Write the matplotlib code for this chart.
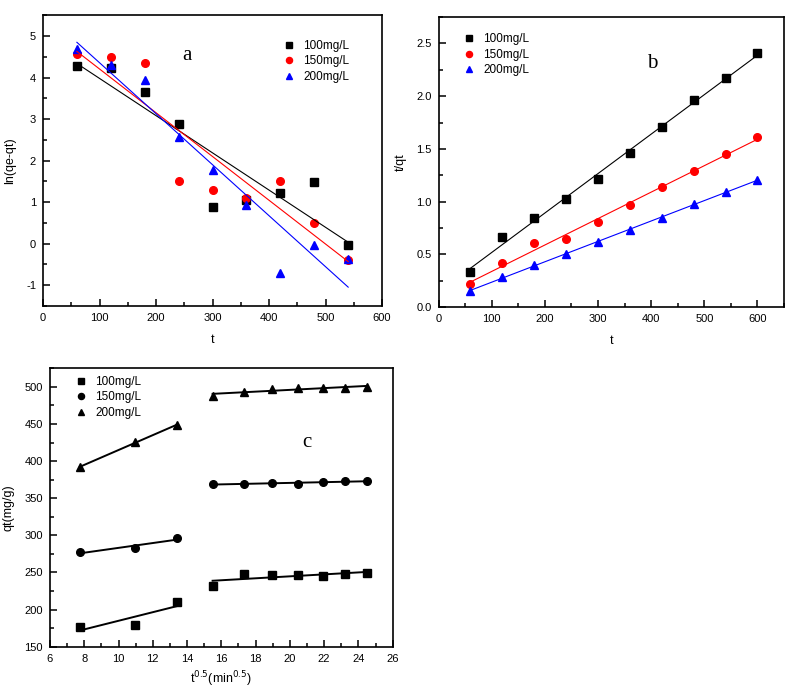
import numpy as np
import matplotlib
matplotlib.use('Agg')
import matplotlib.pyplot as plt
from matplotlib.ticker import MultipleLocator

plt.rcParams['font.family'] = ['Liberation Sans', 'DejaVu Sans']
plt.rcParams['axes.unicode_minus'] = False

labels = ['100mg/L', '150mg/L', '200mg/L']

# panel a: pseudo first order
t_a = [60, 120, 180, 240, 300, 360, 420, 480, 540]
lnq_100 = [4.29, 4.24, 3.66, 2.89, 0.88, 1.06, 1.22, 1.49, -0.04]
lnq_150 = [4.56, 4.50, 4.34, 1.51, 1.30, 1.09, 1.51, 0.49, -0.40]
lnq_200 = [4.70, 4.30, 3.94, 2.58, 1.77, 0.94, -0.71, -0.02, -0.38]

# panel b: pseudo second order
t_b = [60, 120, 180, 240, 300, 360, 420, 480, 540, 600]
tq_100 = [0.334, 0.661, 0.848, 1.029, 1.210, 1.458, 1.706, 1.960, 2.170, 2.405]
tq_150 = [0.216, 0.419, 0.604, 0.645, 0.807, 0.969, 1.134, 1.290, 1.449, 1.611]
tq_200 = [0.152, 0.286, 0.403, 0.499, 0.613, 0.734, 0.848, 0.975, 1.090, 1.207]

# panel c: intraparticle diffusion
t_sqrt = [7.75, 10.95, 13.42, 15.49, 17.32, 18.97, 20.49, 21.91, 23.24, 24.49]
qt_100 = [176.5, 179.7, 210.7, 231.9, 247.6, 246.7, 246.3, 245.4, 248.5, 249.4]
qt_150 = [277.3, 282.7, 296.2, 369.1, 369.5, 370.0, 369.1, 371.3, 372.7, 373.6]
qt_200 = [392.0, 425.3, 448.7, 487.4, 493.7, 497.3, 498.6, 498.2, 499.1, 499.5]
split = 3  # first stage = first 3 points

markers = ['s', 'o', '^']
colors = ['#000000', '#ff0000', '#0000ff']


def fitline(ax, x, y, color, lw):
    x = np.array(x)
    k, b = np.polyfit(x, y, 1)
    ax.plot([x.min(), x.max()], [k * x.min() + b, k * x.max() + b], color=color, linewidth=lw)


def style_axes(ax):
    for s in ax.spines.values():
        s.set_linewidth(1.2)
    ax.tick_params(which='both', direction='in', top=False, right=False, labelsize=8, width=1.1)
    ax.tick_params(which='major', length=5, pad=5)
    ax.tick_params(which='minor', length=3)


fig = plt.figure(figsize=(7.96, 6.97), dpi=100)
leg_kw = dict(frameon=False, fontsize=8.5, handlelength=1.0, handletextpad=0.7,
              labelspacing=0.3, markerscale=0.8, borderaxespad=0.0)

# ---- a
ax1 = fig.add_axes([0.054, 0.561, 0.426, 0.417])
for y, m, c, lab in zip([lnq_100, lnq_150, lnq_200], markers, colors, labels):
    ax1.plot(t_a, y, linestyle='none', marker=m, color=c, markersize=5.5, label=lab)
for y, c in zip([lnq_100, lnq_150, lnq_200], colors):
    fitline(ax1, t_a, y, c, 0.8)
ax1.set_xlim(0, 600)
ax1.set_ylim(-1.5, 5.5)
ax1.xaxis.set_major_locator(MultipleLocator(100))
ax1.xaxis.set_minor_locator(MultipleLocator(50))
ax1.yaxis.set_major_locator(MultipleLocator(1))
ax1.yaxis.set_minor_locator(MultipleLocator(0.5))
style_axes(ax1)
ax1.set_xlabel('t', fontsize=9, labelpad=8)
ax1.set_ylabel('ln(qe-qt)', fontsize=9, labelpad=7)
ax1.text(0.425, 0.862, 'a', transform=ax1.transAxes, fontsize=15,
         family='Liberation Serif', ha='center', va='center')
ax1.legend(loc='upper left', bbox_to_anchor=(0.695, 0.932), **leg_kw)

# ---- b
ax2 = fig.add_axes([0.551, 0.5595, 0.434, 0.416])
for y, m, c, lab in zip([tq_100, tq_150, tq_200], markers, colors, labels):
    ax2.plot(t_b, y, linestyle='none', marker=m, color=c, markersize=5.5, label=lab)
for y, c in zip([tq_100, tq_150, tq_200], colors):
    fitline(ax2, t_b, y, c, 0.8)
ax2.set_xlim(0, 650)
ax2.set_ylim(0, 2.75)
ax2.xaxis.set_major_locator(MultipleLocator(100))
ax2.xaxis.set_minor_locator(MultipleLocator(50))
ax2.yaxis.set_major_locator(MultipleLocator(0.5))
ax2.yaxis.set_minor_locator(MultipleLocator(0.25))
style_axes(ax2)
ax2.set_xlabel('t', fontsize=9, labelpad=8)
ax2.set_ylabel('t/qt', fontsize=9, labelpad=7)
ax2.text(0.617, 0.84, 'b', transform=ax2.transAxes, fontsize=15,
         family='Liberation Serif', ha='center', va='center')
ax2.legend(loc='upper left', bbox_to_anchor=(0.057, 0.96), **leg_kw)

# ---- c
ax3 = fig.add_axes([0.0628, 0.0722, 0.4305, 0.3994])
for y, m, lab in zip([qt_100, qt_150, qt_200], markers, labels):
    ax3.plot(t_sqrt, y, linestyle='none', marker=m, color='black', markersize=5.5, label=lab)
for y in [qt_100, qt_150, qt_200]:
    fitline(ax3, t_sqrt[:split], y[:split], 'black', 1.4)
    fitline(ax3, t_sqrt[split:], y[split:], 'black', 1.4)
ax3.set_xlim(6, 26)
ax3.set_ylim(150, 525)
ax3.xaxis.set_major_locator(MultipleLocator(2))
ax3.xaxis.set_minor_locator(MultipleLocator(1))
ax3.yaxis.set_major_locator(MultipleLocator(50))
ax3.yaxis.set_minor_locator(MultipleLocator(25))
style_axes(ax3)
ax3.set_xlabel('t$^{0.5}$(min$^{0.5}$)', fontsize=9, labelpad=4)
ax3.set_ylabel('qt(mg/g)', fontsize=9, labelpad=7)
ax3.text(0.749, 0.733, 'c', transform=ax3.transAxes, fontsize=15,
         family='Liberation Serif', ha='center', va='center')
ax3.legend(loc='upper left', bbox_to_anchor=(0.06, 0.99), **leg_kw)

fig.savefig('out.png', dpi=100)
